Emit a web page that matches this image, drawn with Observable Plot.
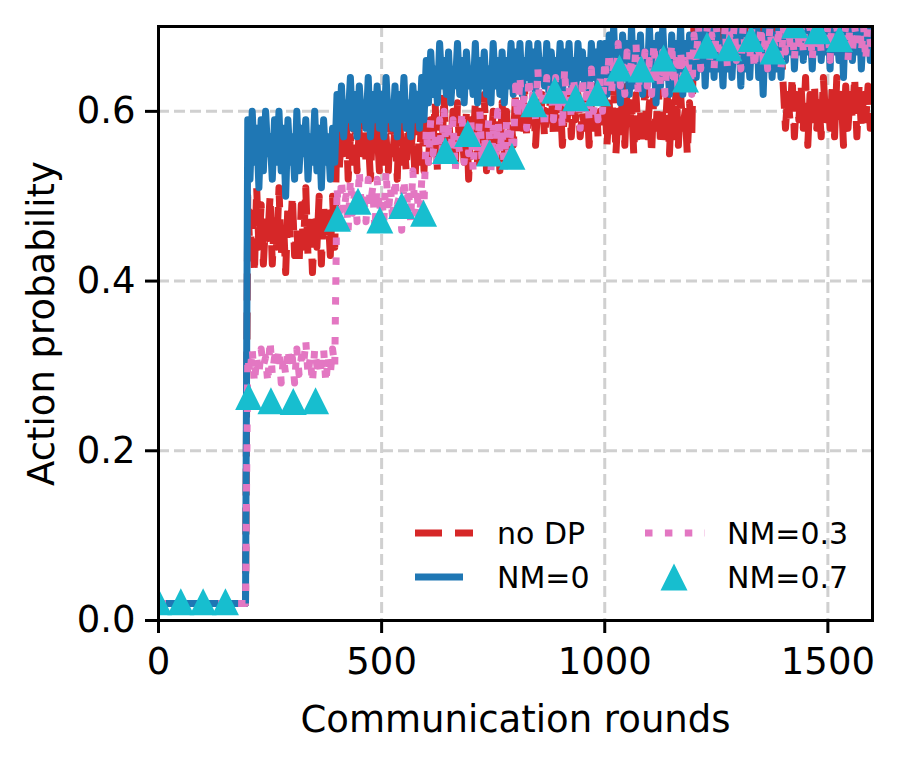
<!DOCTYPE html>
<html><head><meta charset="utf-8">
<script src="https://cdn.jsdelivr.net/npm/d3@7"></script>
<script src="https://cdn.jsdelivr.net/npm/@observablehq/plot@0.6"></script>
<style>
body{margin:0;background:#fff;font-family:"DejaVu Sans",sans-serif}
#wrap{position:relative;width:899px;height:757px}
#legend{position:absolute;left:0;top:0;pointer-events:none}
</style>
</head><body><div id="wrap"></div>
<script>
// Sampled every 5 communication rounds (0..1600)
const rounds = d3.range(0, 1601, 5);

const noDP = [
0.02,0.02,0.02,0.02,0.02,0.02,0.02,0.02,0.02,0.02,0.02,0.02,0.02,0.02,0.02,0.02,0.02,0.02,0.02,0.02,
0.02,0.02,0.02,0.02,0.02,0.02,0.02,0.02,0.02,0.02,0.02,0.02,0.02,0.02,0.02,0.02,0.02,0.02,0.02,0.02,
0.50,0.43,0.48,0.41,0.51,0.44,0.49,0.42,0.47,0.45,0.50,0.42,0.48,0.44,0.51,0.43,0.47,0.41,0.49,0.45,
0.50,0.43,0.46,0.42,0.49,0.44,0.51,0.43,0.48,0.41,0.47,0.44,0.50,0.42,0.49,0.45,0.48,0.43,0.50,0.44,
0.59,0.53,0.58,0.55,0.60,0.52,0.57,0.54,0.59,0.53,0.58,0.55,0.60,0.54,0.57,0.52,0.59,0.55,0.58,0.53,
0.60,0.54,0.57,0.53,0.59,0.55,0.58,0.52,0.60,0.54,0.57,0.53,0.59,0.55,0.58,0.52,0.59,0.54,0.60,0.53,
0.60,0.54,0.59,0.56,0.61,0.53,0.58,0.55,0.62,0.54,0.59,0.56,0.60,0.53,0.61,0.55,0.58,0.54,0.60,0.52,
0.59,0.56,0.61,0.54,0.60,0.55,0.62,0.53,0.58,0.56,0.60,0.54,0.59,0.53,0.61,0.55,0.60,0.54,0.59,0.56,
0.62,0.57,0.61,0.58,0.63,0.57,0.60,0.58,0.62,0.56,0.61,0.58,0.62,0.57,0.60,0.59,0.63,0.57,0.61,0.58,
0.62,0.56,0.60,0.58,0.63,0.57,0.61,0.59,0.62,0.57,0.60,0.58,0.62,0.56,0.61,0.58,0.63,0.57,0.60,0.58,
0.62,0.56,0.61,0.57,0.63,0.55,0.60,0.57,0.62,0.56,0.63,0.58,0.61,0.55,0.62,0.57,0.60,0.56,0.63,0.57,
0.61,0.55,0.62,0.58,0.63,0.56,0.60,0.57,0.62,0.55,0.61,0.57,0.63,0.56,0.62,0.58,0.60,0.55,0.61,0.57,
0.71,0.67,0.70,0.68,0.72,0.66,0.70,0.68,0.71,0.67,0.72,0.68,0.70,0.66,0.71,0.68,0.72,0.67,0.70,0.68,
0.71,0.66,0.72,0.68,0.70,0.67,0.71,0.68,0.72,0.66,0.70,0.67,0.71,0.68,0.72,0.67,0.70,0.66,0.71,0.68,
0.63,0.58,0.62,0.59,0.64,0.57,0.62,0.59,0.63,0.58,0.64,0.56,0.62,0.59,0.63,0.58,0.61,0.57,0.64,0.59,
0.62,0.58,0.63,0.57,0.64,0.59,0.62,0.56,0.63,0.58,0.62,0.59,0.64,0.57,0.63,0.58,0.62,0.59,0.63,0.58,
0.61];

const nm0 = [
0.02,0.02,0.02,0.02,0.02,0.02,0.02,0.02,0.02,0.02,0.02,0.02,0.02,0.02,0.02,0.02,0.02,0.02,0.02,0.02,
0.02,0.02,0.02,0.02,0.02,0.02,0.02,0.02,0.02,0.02,0.02,0.02,0.02,0.02,0.02,0.02,0.02,0.02,0.02,0.02,
0.59,0.52,0.60,0.54,0.58,0.51,0.59,0.53,0.60,0.55,0.57,0.52,0.59,0.54,0.60,0.53,0.58,0.50,0.59,0.54,
0.57,0.52,0.60,0.53,0.58,0.55,0.59,0.52,0.57,0.54,0.60,0.53,0.58,0.51,0.59,0.54,0.57,0.52,0.58,0.54,
0.62,0.58,0.63,0.57,0.61,0.59,0.64,0.58,0.62,0.57,0.63,0.59,0.61,0.58,0.64,0.57,0.62,0.59,0.63,0.58,
0.62,0.57,0.64,0.59,0.61,0.58,0.63,0.57,0.62,0.59,0.64,0.58,0.61,0.57,0.63,0.59,0.62,0.58,0.64,0.59,
0.66,0.61,0.67,0.62,0.65,0.61,0.68,0.63,0.66,0.62,0.67,0.61,0.65,0.63,0.68,0.62,0.66,0.61,0.67,0.63,
0.65,0.62,0.68,0.61,0.66,0.63,0.67,0.62,0.65,0.61,0.68,0.63,0.66,0.62,0.67,0.61,0.66,0.63,0.68,0.62,
0.67,0.63,0.68,0.62,0.66,0.64,0.68,0.63,0.67,0.62,0.68,0.64,0.66,0.63,0.68,0.62,0.67,0.64,0.66,0.63,
0.68,0.62,0.67,0.64,0.68,0.63,0.66,0.62,0.68,0.64,0.67,0.63,0.66,0.62,0.68,0.64,0.67,0.63,0.68,0.62,
0.68,0.62,0.69,0.64,0.70,0.63,0.67,0.61,0.69,0.64,0.68,0.62,0.70,0.63,0.68,0.64,0.69,0.62,0.67,0.63,
0.70,0.64,0.68,0.61,0.69,0.63,0.70,0.64,0.67,0.62,0.69,0.63,0.68,0.64,0.70,0.62,0.68,0.63,0.69,0.64,
0.69,0.64,0.70,0.65,0.71,0.63,0.69,0.65,0.70,0.64,0.71,0.65,0.68,0.63,0.70,0.65,0.71,0.64,0.69,0.66,
0.70,0.63,0.71,0.65,0.69,0.64,0.70,0.66,0.71,0.64,0.69,0.62,0.70,0.65,0.71,0.64,0.69,0.65,0.70,0.64,
0.70,0.66,0.71,0.67,0.72,0.65,0.70,0.67,0.71,0.66,0.72,0.67,0.70,0.65,0.71,0.67,0.72,0.66,0.70,0.67,
0.71,0.65,0.72,0.67,0.70,0.66,0.71,0.64,0.72,0.67,0.70,0.66,0.71,0.67,0.72,0.65,0.70,0.67,0.71,0.66,
0.68];

const nm03 = [
0.02,0.02,0.02,0.02,0.02,0.02,0.02,0.02,0.02,0.02,0.02,0.02,0.02,0.02,0.02,0.02,0.02,0.02,0.02,0.02,
0.02,0.02,0.02,0.02,0.02,0.02,0.02,0.02,0.02,0.02,0.02,0.02,0.02,0.02,0.02,0.02,0.02,0.02,0.02,0.02,
0.31,0.29,0.32,0.28,0.31,0.29,0.32,0.30,0.31,0.28,0.33,0.29,0.31,0.30,0.32,0.28,0.31,0.29,0.32,0.30,
0.31,0.28,0.32,0.29,0.31,0.30,0.33,0.29,0.31,0.28,0.32,0.30,0.31,0.29,0.32,0.28,0.31,0.29,0.32,0.30,
0.51,0.47,0.52,0.48,0.50,0.46,0.52,0.48,0.51,0.47,0.53,0.48,0.50,0.47,0.52,0.49,0.51,0.46,0.52,0.48,
0.50,0.47,0.53,0.48,0.51,0.47,0.52,0.49,0.50,0.46,0.52,0.48,0.51,0.47,0.53,0.48,0.50,0.47,0.52,0.49,
0.58,0.54,0.59,0.55,0.57,0.53,0.59,0.55,0.60,0.54,0.58,0.55,0.59,0.53,0.57,0.55,0.60,0.54,0.58,0.55,
0.59,0.53,0.58,0.55,0.60,0.54,0.57,0.55,0.59,0.53,0.58,0.54,0.60,0.55,0.58,0.53,0.59,0.55,0.58,0.54,
0.63,0.59,0.64,0.60,0.62,0.58,0.64,0.60,0.63,0.59,0.65,0.60,0.62,0.58,0.64,0.61,0.63,0.59,0.64,0.60,
0.62,0.58,0.65,0.60,0.63,0.59,0.64,0.61,0.62,0.58,0.64,0.60,0.63,0.59,0.65,0.60,0.62,0.59,0.64,0.60,
0.66,0.63,0.67,0.62,0.66,0.64,0.68,0.63,0.66,0.62,0.67,0.64,0.66,0.63,0.68,0.62,0.66,0.64,0.67,0.63,
0.66,0.62,0.68,0.64,0.66,0.63,0.67,0.62,0.66,0.64,0.68,0.63,0.66,0.62,0.67,0.64,0.66,0.63,0.67,0.62,
0.69,0.66,0.70,0.65,0.68,0.67,0.70,0.66,0.69,0.65,0.70,0.67,0.68,0.66,0.70,0.65,0.69,0.67,0.70,0.66,
0.68,0.65,0.70,0.67,0.69,0.66,0.70,0.65,0.68,0.67,0.70,0.66,0.69,0.65,0.70,0.67,0.68,0.66,0.70,0.65,
0.70,0.67,0.71,0.68,0.70,0.66,0.71,0.68,0.70,0.67,0.72,0.68,0.70,0.66,0.71,0.68,0.70,0.67,0.71,0.68,
0.70,0.66,0.72,0.68,0.70,0.67,0.71,0.68,0.70,0.66,0.71,0.67,0.70,0.68,0.72,0.67,0.70,0.66,0.71,0.68,
0.69];

// NM=0.7 shown as triangle markers only
const nm07X = [0,50,100,150,202,252,302,352,401,447,496,545,594,643,693,742,792,841,888,935,984,1033,1082,1132,1181,1229,1278,1328,1377,1426,1477,1526,1575];
const nm07Y = [0.022,0.022,0.022,0.022,0.264,0.259,0.258,0.259,0.474,0.494,0.472,0.489,0.480,0.554,0.574,0.551,0.547,0.609,0.625,0.616,0.622,0.651,0.650,0.663,0.638,0.678,0.675,0.686,0.671,0.702,0.695,0.686,0.715];

const xTicks = [0, 500, 1000, 1500];
const yTicks = [0, 0.2, 0.4, 0.6];
const seriesNames = ["no DP", "NM=0", "NM=0.3", "NM=0.7"];
const colors = ["#d62728", "#1f77b4", "#e377c2", "#17becf"];

const toRows = (vals) => rounds.map((r, i) => ({round: r, p: vals[i]}));
const triRows = nm07X.map((r, i) => ({round: r, p: nm07Y[i]}));

// matplotlib-style '^' marker: width == height, centred on bbox
const triSym = {draw(ctx, size) {const h = Math.sqrt(size / Math.PI); ctx.moveTo(0, -h); ctx.lineTo(h, h); ctx.lineTo(-h, h); ctx.closePath();}};

const grid = {stroke: "#d0d0d0", strokeOpacity: 1, strokeWidth: 3, strokeDasharray: "11,5"};

const chart = Plot.plot({
  width: 899, height: 757,
  marginLeft: 158, marginRight: 27, marginTop: 26, marginBottom: 137,
  style: {fontFamily: "DejaVu Sans", fontSize: "37px", color: "black", background: "white", overflow: "visible"},
  x: {domain: [0, 1600]},
  y: {domain: [0, 0.7]},
  marks: [
    Plot.gridX({ticks: xTicks.slice(1), ...grid}),
    Plot.gridY({ticks: yTicks.slice(1), ...grid}),
    Plot.line(toRows(noDP), {x: "round", y: "p", stroke: colors[0], strokeWidth: 7, strokeDasharray: "27,12", strokeLinecap: "butt", clip: true}),
    Plot.line(toRows(nm0), {x: "round", y: "p", stroke: colors[1], strokeWidth: 7, clip: true}),
    Plot.line(toRows(nm03), {x: "round", y: "p", stroke: colors[2], strokeWidth: 7, strokeDasharray: "7.5,12.4", strokeLinecap: "butt", clip: true}),
    Plot.dot(triRows, {x: "round", y: "p", symbol: triSym, r: 13.5, fill: colors[3], stroke: "none", clip: true}),
    Plot.frame({stroke: "black", strokeWidth: 3}),
    Plot.axisX({ticks: xTicks, tickFormat: "d", tickSize: 13, tickPadding: 14, strokeWidth: 3,
      label: "Communication rounds", labelAnchor: "center", labelArrow: "none", labelOffset: 111}),
    Plot.axisY({ticks: yTicks, tickFormat: ".1f", tickSize: 13, tickPadding: 10, strokeWidth: 3,
      label: "Action probability", labelAnchor: "center", labelArrow: "none", labelOffset: 131})
  ]
});
const wrap = document.getElementById("wrap");
wrap.appendChild(chart);

// Legend (two columns, inside lower right of the axes, no frame)
const lg = d3.select(wrap).append("svg").attr("id", "legend").attr("width", 899).attr("height", 757)
  .style("font-family", "DejaVu Sans").style("font-size", "30px");
const items = [
  {name: seriesNames[0], kind: "line", color: colors[0], dash: "27,13", x0: 415, x1: 473, y: 533, cap: "butt", tx: 497},
  {name: seriesNames[1], kind: "line", color: colors[1], dash: null, x0: 415, x1: 463, y: 577, cap: "butt", tx: 497},
  {name: seriesNames[2], kind: "line", color: colors[2], dash: "7.5,12.4", x0: 645, x1: 705, y: 533, cap: "butt", tx: 727},
  {name: seriesNames[3], kind: "tri", color: colors[3], cx: 674, y: 577, tx: 727}
];
for (const it of items) {
  if (it.kind === "line") {
    lg.append("line").attr("x1", it.x0).attr("x2", it.x1).attr("y1", it.y).attr("y2", it.y)
      .attr("stroke", it.color).attr("stroke-width", 7).attr("stroke-linecap", it.cap)
      .attr("stroke-dasharray", it.dash);
  } else {
    const h = 13.5;
    lg.append("path").attr("d", `M${it.cx},${it.y - h}L${it.cx + h},${it.y + h}L${it.cx - h},${it.y + h}Z`).attr("fill", it.color);
  }
  lg.append("text").attr("x", it.tx).attr("y", it.y).attr("dy", "0.36em").attr("fill", "black").text(it.name);
}
</script></body></html>
